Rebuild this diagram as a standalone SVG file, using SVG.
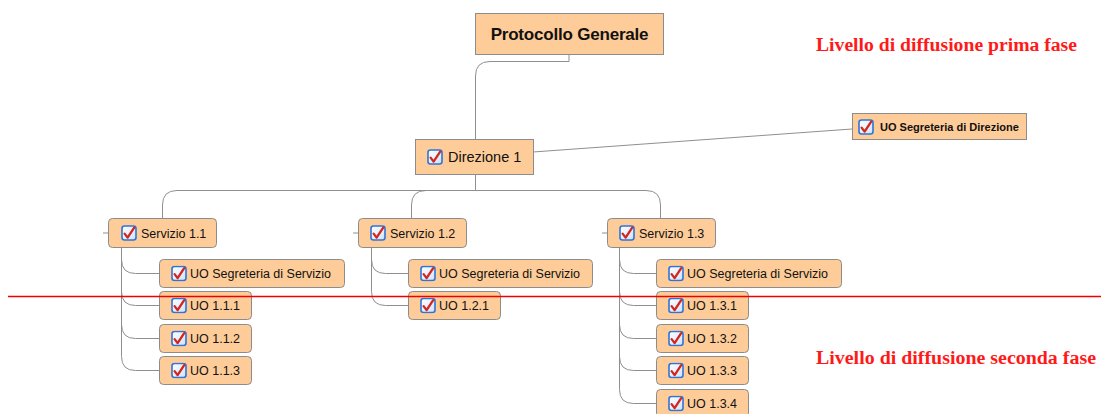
<svg xmlns="http://www.w3.org/2000/svg" width="1101" height="414" viewBox="0 0 1101 414">
<defs>
<linearGradient id="cg" x1="0" y1="0" x2="1" y2="1">
<stop offset="0" stop-color="#ffffff"/>
<stop offset="1" stop-color="#cfe2fb"/>
</linearGradient>
<symbol id="chk" viewBox="0 0 16 16">
<rect x="1" y="1" width="14" height="14" rx="2.5" fill="url(#cg)" stroke="#2f74d8" stroke-width="1.6"/>
<path d="M3.6 8.6 L6.6 12.6 L13.2 2.6" fill="none" stroke="#d3271d" stroke-width="2.3" stroke-linejoin="round" stroke-linecap="round"/>
</symbol>
<style>
.box{fill:#fecc98;stroke:#8c8c8c;stroke-width:1}
.t{font-family:"Liberation Sans",Arial,sans-serif;fill:#111}
.s{font-size:12.5px}
.c{fill:none;stroke:#8f8f8f;stroke-width:1}
.red{font-family:"Liberation Serif","Times New Roman",serif;font-weight:bold;font-size:18.5px;fill:#ff1a1a}
</style>
</defs>
<rect width="1101" height="414" fill="#ffffff"/>

<g id="connectors">
<path class="c" d="M569 54 V61.5 H490 Q475.5 61.5 475.5 76 V139"/>
<path class="c" d="M533 152 L852 129"/>
<path class="c" d="M475.5 174 V190.5 H177 Q162.5 190.5 162.5 205 V218"/>
<path class="c" d="M475.5 190.5 H426 Q411.5 190.5 411.5 205 V218"/>
<path class="c" d="M475.5 190.5 H646 Q660.5 190.5 660.5 205 V218"/>
<path class="c" d="M103 233 H108 M353 233 H358 M602 233 H607"/>
<path class="c" d="M121.5 247 V259.5 Q121.5 273.5 135.5 273.5 H159"/>
<path class="c" d="M121.5 247 V291.5 Q121.5 305.5 135.5 305.5 H159"/>
<path class="c" d="M121.5 247 V324.5 Q121.5 338.5 135.5 338.5 H159"/>
<path class="c" d="M121.5 247 V356.5 Q121.5 370.5 135.5 370.5 H159"/>
<path class="c" d="M371.5 247 V259.5 Q371.5 273.5 385.5 273.5 H408"/>
<path class="c" d="M371.5 247 V291.5 Q371.5 305.5 385.5 305.5 H408"/>
<path class="c" d="M619.5 247 V259.5 Q619.5 273.5 633.5 273.5 H656"/>
<path class="c" d="M619.5 247 V291.5 Q619.5 305.5 633.5 305.5 H656"/>
<path class="c" d="M619.5 247 V324.5 Q619.5 338.5 633.5 338.5 H656"/>
<path class="c" d="M619.5 247 V356.5 Q619.5 370.5 633.5 370.5 H656"/>
<path class="c" d="M619.5 247 V389.5 Q619.5 403.5 633.5 403.5 H656"/>
</g>

<g id="protocollo">
<rect class="box" x="475.5" y="13.5" width="188" height="41"/>
<text class="t" x="569.5" y="40" text-anchor="middle" font-size="17" font-weight="bold" letter-spacing="-0.2">Protocollo Generale</text>
</g>

<g id="direzione1">
<rect class="box" x="415.5" y="139.5" width="118" height="35"/>
<use href="#chk" x="427" y="149" width="16" height="16"/>
<text class="t" x="448" y="162" font-size="14.5">Direzione 1</text>
</g>

<g id="uo-segreteria-direzione">
<rect class="box" x="852.5" y="113.5" width="174" height="26"/>
<use href="#chk" x="858" y="119" width="16" height="16"/>
<text class="t" x="880" y="131" font-size="11" font-weight="bold">UO Segreteria di Direzione</text>
</g>

<g id="servizio11">
<rect class="box" x="108.5" y="218.5" width="108" height="29" rx="4"/>
<use href="#chk" x="121" y="225" width="16" height="16"/>
<text class="t s" x="141" y="237.5">Servizio 1.1</text>
</g>
<g id="servizio12">
<rect class="box" x="358.5" y="218.5" width="108" height="29" rx="4"/>
<use href="#chk" x="370" y="225" width="16" height="16"/>
<text class="t s" x="390" y="237.5">Servizio 1.2</text>
</g>
<g id="servizio13">
<rect class="box" x="607.5" y="218.5" width="108" height="29" rx="4"/>
<use href="#chk" x="619" y="225" width="16" height="16"/>
<text class="t s" x="639" y="237.5">Servizio 1.3</text>
</g>

<g id="uo-seg-11">
<rect class="box" x="159.5" y="259.5" width="185" height="28" rx="4"/>
<use href="#chk" x="171" y="265.5" width="16" height="16"/>
<text class="t s" x="190" y="278">UO Segreteria di Servizio</text>
</g>
<g id="uo-111">
<rect class="box" x="159.5" y="291.5" width="92" height="28" rx="4"/>
<use href="#chk" x="171" y="297.5" width="16" height="16"/>
<text class="t s" x="190" y="310">UO 1.1.1</text>
</g>
<g id="uo-112">
<rect class="box" x="159.5" y="324.5" width="92" height="28" rx="4"/>
<use href="#chk" x="171" y="330.5" width="16" height="16"/>
<text class="t s" x="190" y="343">UO 1.1.2</text>
</g>
<g id="uo-113">
<rect class="box" x="159.5" y="356.5" width="92" height="28" rx="4"/>
<use href="#chk" x="171" y="362.5" width="16" height="16"/>
<text class="t s" x="190" y="375">UO 1.1.3</text>
</g>

<g id="uo-seg-12">
<rect class="box" x="408.5" y="259.5" width="184" height="28" rx="4"/>
<use href="#chk" x="420" y="265.5" width="16" height="16"/>
<text class="t s" x="439" y="278">UO Segreteria di Servizio</text>
</g>
<g id="uo-121">
<rect class="box" x="408.5" y="291.5" width="92" height="28" rx="4"/>
<use href="#chk" x="420" y="297.5" width="16" height="16"/>
<text class="t s" x="439" y="310">UO 1.2.1</text>
</g>

<g id="uo-seg-13">
<rect class="box" x="656.5" y="259.5" width="185" height="28" rx="4"/>
<use href="#chk" x="668" y="265.5" width="16" height="16"/>
<text class="t s" x="687" y="278">UO Segreteria di Servizio</text>
</g>
<g id="uo-131">
<rect class="box" x="656.5" y="291.5" width="92" height="28" rx="4"/>
<use href="#chk" x="668" y="297.5" width="16" height="16"/>
<text class="t s" x="687" y="310">UO 1.3.1</text>
</g>
<g id="uo-132">
<rect class="box" x="656.5" y="324.5" width="92" height="28" rx="4"/>
<use href="#chk" x="668" y="330.5" width="16" height="16"/>
<text class="t s" x="687" y="343">UO 1.3.2</text>
</g>
<g id="uo-133">
<rect class="box" x="656.5" y="356.5" width="92" height="28" rx="4"/>
<use href="#chk" x="668" y="362.5" width="16" height="16"/>
<text class="t s" x="687" y="375">UO 1.3.3</text>
</g>
<g id="uo-134">
<rect class="box" x="656.5" y="389.5" width="92" height="28" rx="4"/>
<use href="#chk" x="668" y="395.5" width="16" height="16"/>
<text class="t s" x="687" y="408">UO 1.3.4</text>
</g>

<line x1="8" y1="296.5" x2="1101" y2="296.5" stroke="#f00000" stroke-width="1.6"/>
<text class="red" x="816" y="51" textLength="261" lengthAdjust="spacingAndGlyphs">Livello di diffusione prima fase</text>
<text class="red" x="816" y="364" textLength="280" lengthAdjust="spacingAndGlyphs">Livello di diffusione seconda fase</text>
</svg>
